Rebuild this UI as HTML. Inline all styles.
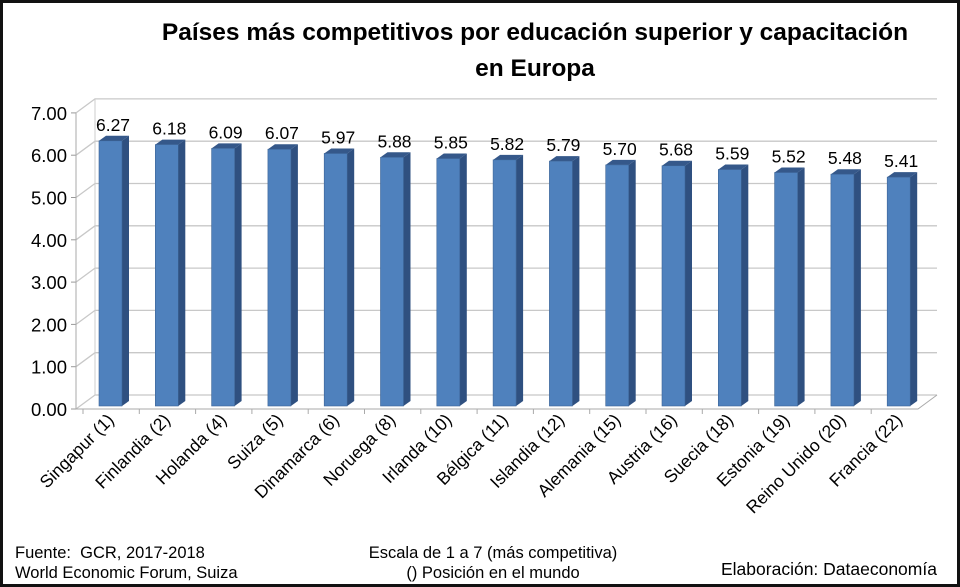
<!DOCTYPE html>
<html><head><meta charset="utf-8"><style>
body{margin:0;background:#fff;font-family:"Liberation Sans",sans-serif}
#wrap{position:relative;width:960px;height:587px;box-sizing:border-box;border:3px solid #111;overflow:hidden}
.t{position:absolute;font-size:16.5px;color:#000;line-height:20px}
</style></head><body>
<div id="wrap">
<svg id="c" width="960" height="587" style="position:absolute;left:-3px;top:-3px">
<text x="535" y="40" text-anchor="middle" font-size="24.5" font-weight="bold">Países más competitivos por educación superior y capacitación</text>
<text x="535" y="76" text-anchor="middle" font-size="24.5" font-weight="bold">en Europa</text>
<g id="g"></g>
</svg>
<div class="t" style="left:12px;top:540px">Fuente:&nbsp; GCR, 2017-2018<br>World Economic Forum, Suiza</div>
<div class="t" style="left:340px;top:540px;text-align:center;width:300px">Escala de 1 a 7 (más competitiva)<br>() Posición en el mundo</div>
<div class="t" style="left:718px;top:556px;font-size:17.5px">Elaboración: Dataeconomía</div>
</div>
<script>
const categories=["Singapur (1)","Finlandia (2)","Holanda (4)","Suiza (5)","Dinamarca (6)","Noruega (8)","Irlanda (10)","Bélgica (11)","Islandia (12)","Alemania (15)","Austria (16)","Suecia (18)","Estonia (19)","Reino Unido (20)","Francia (22)"];
const values=[6.27,6.18,6.09,6.07,5.97,5.88,5.85,5.82,5.79,5.70,5.68,5.59,5.52,5.48,5.41];
const ticks=[0,1,2,3,4,5,6,7];
const tickLabels=["0.00","1.00","2.00","3.00","4.00","5.00","6.00","7.00"];
const NS="http://www.w3.org/2000/svg",g=document.getElementById('g');
function el(t,a,p){const e=document.createElementNS(NS,t);for(const k in a)e.setAttribute(k,a[k]);(p||g).appendChild(e);return e;}
const y0=409,k=42.3,x0=76,dx=19,dy=-14,xr=918;
const y=v=>y0-v*k;
const bw=56.3,bx=i=>99+i*bw;
ticks.forEach((t,i)=>{
 const l=el('path',{d:`M${x0} ${y(t)}L${x0+dx} ${y(t)+dy}L${xr+dx} ${y(t)+dy}`,fill:'none',stroke:'#c8c8c8','stroke-width':1.3});
 
 const tx=el('text',{x:x0-9,y:y(t)+7,'text-anchor':'end','font-size':18.5});tx.textContent=tickLabels[i];
 
 el('line',{x1:x0-5,x2:x0,y1:y(t),y2:y(t),stroke:'#999'});
});
el('line',{x1:x0,y1:y(0),x2:x0,y2:y(7),stroke:'#aaa'});
el('line',{x1:x0+dx,y1:y(0)+dy,x2:x0+dx,y2:y(7)+dy,stroke:'#ccc'});
el('path',{d:`M${x0} ${y0}L${xr} ${y0}L${xr+dx} ${y0+dy}`,fill:'none',stroke:'#aaa'});
values.forEach((v,i)=>{
 const x=bx(i),w=23,d=7,e=5,b=y0-3,top=b-v*k;
 const grp=el('g',{});
 el('path',{d:`M${x+w} ${top}L${x+w+d} ${top-e}L${x+w+d} ${b-e}L${x+w} ${b}Z`,fill:'#2f5080'},grp);
 el('path',{d:`M${x} ${top}L${x+d} ${top-e}L${x+w+d} ${top-e}L${x+w} ${top}Z`,fill:'#35588a'},grp);
 el('rect',{x:x,y:top,width:w,height:b-top,fill:'#4f81bd',stroke:'#3c6496','stroke-width':0.6},grp);
 const lb=el('text',{x:x+14,y:top-10,'text-anchor':'middle','font-size':17.5});lb.textContent=values[i].toFixed(2);
 
 el('line',{x1:x-16,x2:x-16,y1:y0,y2:y0+5,stroke:'#aaa'});
 const cx=x+16,cy=y0+12;
 const c=el('text',{x:cx,y:cy,'text-anchor':'end','font-size':17.5,transform:`rotate(-45 ${cx} ${cy})`});c.textContent=categories[i];
 
});
</script>
</body></html>
